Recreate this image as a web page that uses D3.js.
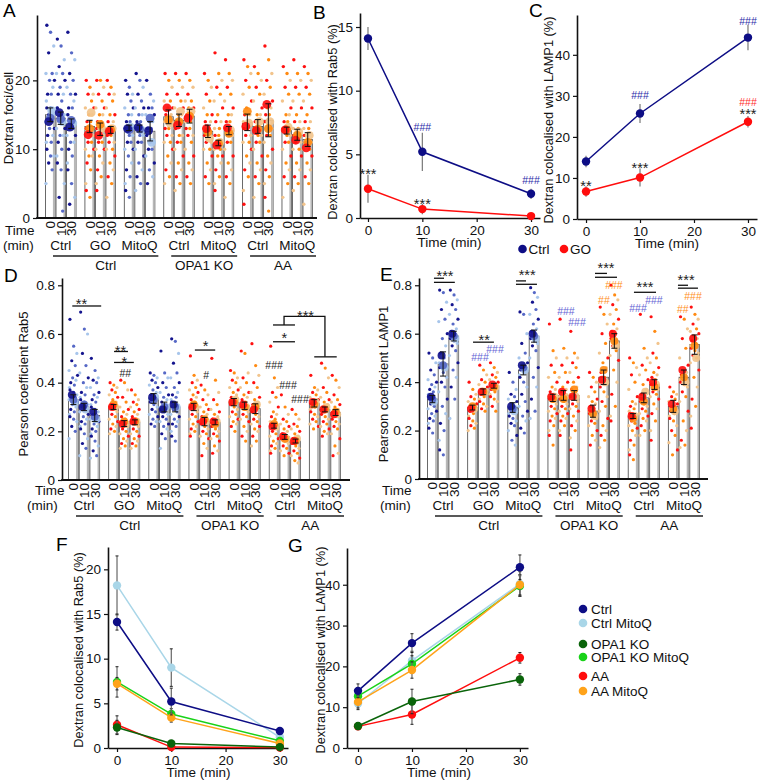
<!DOCTYPE html>
<html>
<head>
<meta charset="utf-8">
<script src="https://cdn.jsdelivr.net/npm/d3@7"></script>
<style>
  body { margin: 0; background: #fff; }
  svg text { font-family: "Liberation Sans", Arial, sans-serif; }
</style>
</head>
<body>
<svg id="fig" width="758" height="783"></svg>
<script>
(function() {
    'use strict';

    // ---- shared categories ----
    var subLabels = ["Ctrl", "GO", "MitoQ", "Ctrl", "MitoQ", "Ctrl", "MitoQ"];
    var mainGroups = [
        {label: "Ctrl", first: 0, last: 2},
        {label: "OPA1 KO", first: 3, last: 4},
        {label: "AA", first: 5, last: 6}
    ];
    var timeLabels = ["0", "10", "30"];
    var blueGroups = [0, 2];
    var times = [0, 10, 30];

    // ---- panel A: dextran foci per cell ----
    var aMeans = [[15.0,14.5,13.7],[13.3,12.9,12.8],[13.1,13.0,12.6],[14.7,14.2,14.8],[12.6,10.9,12.7],[13.9,13.3,14.2],[12.7,12.1,11.4]];
    var aErr = [[1.0,0.9,0.7],[0.9,0.9,0.5],[0.4,0.5,1.4],[1.0,0.9,1.0],[0.9,0.4,0.6],[1.2,1.0,2.4],[0.5,0.8,1.0]];
    var aReps = [
        [[14.0,14.5,15.6],[15.3,14.4,14.0],[13.2,14.2,13.8]],
        [[12.1,13.0,15.3],[12.0,13.6,13.0],[12.6,12.8,13.0]],
        [[13.0,12.8,13.2],[13.2,12.9,12.8],[12.7,14.5,11.0]],
        [[16.0,14.3,13.8],[13.5,14.0,15.5],[14.5,14.8,15.5]],
        [[13.0,12.5,11.6],[10.6,10.8,11.0],[13.1,12.3,12.8]],
        [[13.3,15.5,13.8],[12.7,12.9,14.0],[16.5,13.0,14.0]],
        [[12.8,12.8,13.2],[11.3,12.0,12.5],[10.2,11.0,12.0]]
    ];
    var aDots = [
        [[28,27,25,24,21,21,20,20,19,18,18,17,16,16,15,15,14,14,13,13,12,12,11,11,10,9,9,8,7,5],
         [26,25,23,22,21,21,20,19,18,18,17,16,16,15,15,14,14,13,13,12,12,11,10,9,8,7,5,3,1],
         [27,24,23,21,20,19,18,18,17,16,16,15,15,14,14,13,13,12,12,11,11,10,9,8,7,5,3,2]],
        [[20,19,18,18,17,16,16,15,15,14,14,13,13,12,12,11,11,10,10,9,9,8,7,5,4,3],
         [20,20,19,18,17,16,16,15,15,14,14,13,13,12,12,11,11,10,10,9,8,7,6,5,4],
         [20,19,18,18,17,16,15,15,14,14,13,13,12,12,11,11,10,10,9,8,7,6,5,3]],
        [[20,19,18,18,17,16,16,15,15,14,14,13,13,12,12,11,11,10,10,9,8,7,6,5,4,3],
         [21,20,19,18,17,16,16,15,15,14,14,13,13,12,12,11,11,10,9,8,7,6,5,4],
         [20,18,17,16,16,15,15,14,14,13,13,12,12,11,11,10,10,9,8,7,6,5]],
        [[21,20,19,18,17,17,16,16,15,15,14,14,13,13,12,12,11,11,10,9,8,7,6,5],
         [21,20,19,18,17,16,16,15,15,14,14,13,13,12,12,11,11,10,9,8,7,6,5,4],
         [21,20,19,18,17,17,16,16,15,15,14,14,13,13,12,12,11,10,9,8,7,6,5]],
        [[21,20,19,18,17,16,15,15,14,14,13,13,12,12,11,11,10,10,9,8,7,6,5],
         [24,21,20,19,18,17,16,15,14,14,13,13,12,12,11,11,10,10,9,9,8,7,6,5,4],
         [23,21,20,19,18,17,16,15,15,14,14,13,13,12,12,11,11,10,9,8,7,6,5,3]],
        [[23,22,21,20,19,18,17,16,15,15,14,14,13,13,12,12,11,11,10,9,8,7,6,4,2],
         [22,21,20,19,18,17,16,15,15,14,14,13,13,12,12,11,11,10,9,8,7,6,5,3],
         [25,23,21,20,19,18,17,16,16,15,15,14,14,13,13,12,12,11,10,9,8,7,6,5,3,1]],
        [[22,21,20,19,18,17,16,15,15,14,14,13,13,12,12,11,11,10,9,8,7,6,5,3],
         [23,21,20,19,18,17,16,15,14,14,13,13,12,12,11,11,10,10,9,8,7,6,5,4],
         [22,21,20,19,18,17,16,15,14,14,13,13,12,12,11,11,10,10,9,8,7,6,5,2]]
    ];

    // ---- panel B / C: Ctrl vs GO time course ----
    var bCtrl = [14.1, 5.2, 1.9], bCtrlErr = [0.9, 1.5, 0.4];
    var bGO = [2.3, 0.7, 0.15], bGOErr = [1.1, 0.4, 0.1];
    var cCtrl = [14.0, 25.7, 44.2], cCtrlErr = [1.4, 2.3, 3.1];
    var cGO = [6.7, 10.1, 23.7], cGOErr = [1.3, 2.2, 1.4];

    // ---- panel D: Pearson Rab5 ----
    var dMeans = [[0.33,0.30,0.265],[0.30,0.232,0.237],[0.335,0.30,0.30],[0.30,0.24,0.237],[0.32,0.305,0.293],[0.223,0.177,0.16],[0.315,0.29,0.277]];
    var dErr = [[0.02,0.015,0.025],[0.01,0.012,0.01],[0.02,0.02,0.02],[0.015,0.017,0.01],[0.015,0.015,0.02],[0.01,0.01,0.008],[0.015,0.01,0.012]];
    var dReps = [
        [[0.35,0.33,0.32],[0.30,0.31,0.29],[0.28,0.26,0.25]],
        [[0.30,0.31,0.30],[0.23,0.24,0.23],[0.24,0.24,0.24]],
        [[0.34,0.33,0.34],[0.29,0.30,0.30],[0.31,0.30,0.30]],
        [[0.30,0.31,0.30],[0.24,0.25,0.24],[0.24,0.23,0.24]],
        [[0.32,0.32,0.33],[0.31,0.30,0.30],[0.29,0.30,0.31]],
        [[0.22,0.23,0.22],[0.18,0.17,0.17],[0.16,0.16,0.17]],
        [[0.32,0.31,0.32],[0.29,0.29,0.30],[0.27,0.28,0.27]]
    ];
    var dDots = [
        [[0.66,0.55,0.52,0.49,0.47,0.45,0.43,0.42,0.41,0.40,0.39,0.38,0.37,0.36,0.35,0.34,0.34,0.33,0.32,0.31,0.30,0.29,0.28,0.27,0.26,0.25,0.24,0.22,0.20,0.17],
         [0.69,0.62,0.60,0.52,0.47,0.44,0.42,0.40,0.38,0.36,0.35,0.34,0.33,0.32,0.31,0.30,0.29,0.28,0.27,0.26,0.25,0.24,0.23,0.22,0.21,0.19,0.17,0.15,0.13,0.10],
         [0.50,0.45,0.42,0.41,0.40,0.38,0.36,0.35,0.34,0.33,0.32,0.31,0.30,0.29,0.28,0.27,0.26,0.25,0.24,0.23,0.22,0.21,0.20,0.19,0.18,0.16,0.14,0.12,0.10,0.09]],
        [[0.40,0.39,0.38,0.37,0.36,0.35,0.34,0.33,0.32,0.31,0.31,0.30,0.30,0.29,0.28,0.27,0.26,0.25,0.24,0.23,0.22,0.21,0.20,0.19],
         [0.41,0.40,0.37,0.34,0.32,0.30,0.29,0.28,0.27,0.26,0.25,0.24,0.24,0.23,0.22,0.21,0.20,0.19,0.18,0.17,0.16,0.15,0.14,0.13],
         [0.37,0.35,0.33,0.32,0.31,0.30,0.29,0.28,0.27,0.26,0.25,0.24,0.24,0.23,0.22,0.21,0.20,0.19,0.18,0.17,0.16,0.15,0.14,0.13]],
        [[0.44,0.43,0.42,0.41,0.40,0.39,0.38,0.37,0.36,0.35,0.34,0.33,0.32,0.31,0.30,0.29,0.28,0.27,0.26,0.25,0.24,0.23,0.22],
         [0.53,0.44,0.42,0.40,0.38,0.36,0.35,0.34,0.33,0.32,0.31,0.30,0.29,0.28,0.27,0.26,0.25,0.24,0.23,0.22,0.21,0.19,0.17,0.13],
         [0.58,0.57,0.52,0.48,0.44,0.42,0.40,0.38,0.36,0.35,0.34,0.33,0.32,0.31,0.30,0.29,0.28,0.27,0.26,0.25,0.24,0.23,0.22,0.20,0.18,0.16]],
        [[0.51,0.43,0.41,0.40,0.38,0.37,0.36,0.35,0.34,0.33,0.32,0.31,0.30,0.29,0.28,0.27,0.26,0.25,0.24,0.23,0.22,0.21,0.20,0.19,0.18],
         [0.39,0.37,0.35,0.33,0.31,0.30,0.29,0.28,0.27,0.26,0.25,0.24,0.23,0.22,0.21,0.20,0.19,0.18,0.17,0.15,0.13,0.10],
         [0.50,0.41,0.36,0.33,0.31,0.29,0.28,0.27,0.26,0.25,0.24,0.23,0.22,0.21,0.20,0.19,0.18,0.17,0.16,0.14,0.12,0.11]],
        [[0.45,0.44,0.42,0.41,0.40,0.38,0.37,0.36,0.35,0.34,0.33,0.32,0.31,0.30,0.29,0.28,0.27,0.26,0.25,0.24,0.23,0.22,0.20],
         [0.53,0.52,0.44,0.42,0.40,0.38,0.36,0.35,0.34,0.33,0.32,0.31,0.30,0.29,0.28,0.27,0.26,0.25,0.24,0.22,0.20,0.18,0.16],
         [0.56,0.47,0.43,0.40,0.38,0.36,0.34,0.33,0.32,0.31,0.30,0.29,0.28,0.27,0.26,0.25,0.24,0.23,0.22,0.21,0.20,0.18,0.16,0.14]],
        [[0.55,0.42,0.38,0.36,0.34,0.32,0.30,0.28,0.27,0.26,0.25,0.24,0.23,0.22,0.21,0.20,0.19,0.18,0.17,0.16,0.15,0.14,0.13,0.12,0.11],
         [0.35,0.30,0.27,0.25,0.24,0.23,0.22,0.21,0.20,0.19,0.18,0.17,0.17,0.16,0.15,0.14,0.13,0.12,0.11,0.10],
         [0.29,0.27,0.25,0.23,0.22,0.21,0.20,0.19,0.18,0.17,0.16,0.16,0.15,0.14,0.13,0.12,0.11,0.10,0.09,0.08,0.07]],
        [[0.43,0.38,0.37,0.36,0.35,0.34,0.33,0.32,0.31,0.30,0.30,0.29,0.28,0.27,0.26,0.25,0.24,0.23,0.22,0.21],
         [0.48,0.46,0.42,0.38,0.36,0.34,0.33,0.32,0.31,0.30,0.29,0.28,0.27,0.26,0.25,0.24,0.23,0.22,0.21,0.20,0.19,0.18],
         [0.43,0.41,0.38,0.35,0.33,0.32,0.31,0.30,0.29,0.28,0.27,0.26,0.25,0.24,0.23,0.22,0.21,0.19,0.17,0.14,0.11,0.10]]
    ];

    // ---- panel E: Pearson LAMP1 ----
    var eMeans = [[0.33,0.475,0.59],[0.295,0.36,0.385],[0.295,0.45,0.59],[0.335,0.345,0.345],[0.28,0.42,0.57],[0.26,0.335,0.39],[0.30,0.42,0.555]];
    var eErr = [[0.015,0.05,0.02],[0.01,0.012,0.01],[0.02,0.02,0.025],[0.015,0.02,0.02],[0.025,0.03,0.03],[0.01,0.02,0.02],[0.025,0.03,0.04]];
    var eReps = [
        [[0.34,0.33,0.32],[0.51,0.47,0.46],[0.60,0.59,0.58]],
        [[0.29,0.30,0.29],[0.36,0.36,0.36],[0.39,0.38,0.38]],
        [[0.30,0.29,0.28],[0.47,0.46,0.45],[0.60,0.59,0.58]],
        [[0.34,0.33,0.34],[0.36,0.33,0.34],[0.34,0.37,0.34]],
        [[0.29,0.27,0.26],[0.41,0.45,0.40],[0.60,0.57,0.55]],
        [[0.26,0.25,0.26],[0.34,0.32,0.36],[0.40,0.38,0.39]],
        [[0.31,0.29,0.28],[0.45,0.42,0.40],[0.58,0.55,0.50]]
    ];
    var eDots = [
        [[0.52,0.50,0.48,0.45,0.43,0.41,0.40,0.39,0.38,0.37,0.36,0.35,0.34,0.33,0.32,0.31,0.30,0.29,0.28,0.27,0.26,0.25,0.24,0.23,0.21,0.19],
         [0.78,0.77,0.73,0.70,0.66,0.65,0.60,0.58,0.55,0.52,0.50,0.48,0.46,0.44,0.42,0.40,0.38,0.36,0.33,0.30,0.27,0.23,0.20,0.16,0.12,0.10],
         [0.78,0.76,0.74,0.72,0.70,0.68,0.66,0.64,0.62,0.61,0.60,0.59,0.58,0.57,0.56,0.55,0.53,0.51,0.48,0.45,0.42,0.38,0.33,0.25]],
        [[0.40,0.37,0.35,0.34,0.33,0.32,0.31,0.30,0.29,0.28,0.27,0.26,0.25,0.24,0.23,0.22,0.21,0.20],
         [0.47,0.45,0.43,0.41,0.40,0.39,0.38,0.37,0.36,0.35,0.34,0.33,0.32,0.31,0.30,0.29,0.28],
         [0.48,0.46,0.44,0.43,0.42,0.41,0.40,0.39,0.38,0.37,0.36,0.35,0.34,0.33,0.32,0.30,0.28]],
        [[0.44,0.40,0.37,0.35,0.34,0.33,0.32,0.31,0.30,0.29,0.28,0.27,0.26,0.25,0.24,0.23,0.22,0.20,0.18,0.16,0.14],
         [0.69,0.68,0.60,0.56,0.52,0.50,0.48,0.47,0.46,0.45,0.44,0.43,0.42,0.40,0.38,0.35,0.32,0.30,0.28,0.26,0.24,0.21,0.19],
         [0.79,0.77,0.75,0.73,0.70,0.68,0.66,0.64,0.62,0.61,0.60,0.59,0.58,0.57,0.56,0.55,0.53,0.50,0.46,0.42,0.38,0.33,0.28,0.25]],
        [[0.64,0.53,0.50,0.47,0.44,0.42,0.40,0.38,0.37,0.36,0.35,0.34,0.33,0.32,0.31,0.30,0.29,0.28,0.27,0.26,0.25,0.24,0.22,0.20,0.18,0.14],
         [0.66,0.54,0.50,0.47,0.44,0.42,0.40,0.38,0.37,0.36,0.35,0.34,0.33,0.32,0.31,0.30,0.29,0.28,0.27,0.26,0.25,0.24,0.22,0.20,0.18],
         [0.61,0.52,0.50,0.48,0.46,0.44,0.42,0.40,0.38,0.37,0.36,0.35,0.34,0.33,0.32,0.31,0.30,0.29,0.28,0.26,0.24,0.22,0.20,0.17,0.12]],
        [[0.44,0.42,0.40,0.38,0.36,0.34,0.33,0.32,0.31,0.30,0.29,0.28,0.27,0.26,0.25,0.24,0.23,0.22,0.20,0.18,0.16,0.14],
         [0.71,0.68,0.64,0.60,0.56,0.52,0.50,0.48,0.46,0.44,0.42,0.40,0.38,0.36,0.34,0.32,0.30,0.28,0.25,0.22,0.20,0.18,0.16,0.13],
         [0.80,0.76,0.74,0.72,0.70,0.68,0.66,0.64,0.62,0.61,0.60,0.59,0.58,0.57,0.56,0.55,0.53,0.51,0.49,0.45,0.40,0.35,0.30,0.26,0.24]],
        [[0.50,0.48,0.46,0.43,0.40,0.37,0.34,0.32,0.31,0.30,0.29,0.28,0.27,0.26,0.25,0.24,0.23,0.22,0.21,0.20,0.18,0.16,0.14,0.12,0.10,0.08],
         [0.68,0.54,0.50,0.47,0.45,0.43,0.41,0.39,0.37,0.35,0.34,0.33,0.32,0.31,0.30,0.29,0.28,0.27,0.26,0.25,0.24,0.22,0.20,0.18],
         [0.67,0.61,0.56,0.52,0.50,0.48,0.46,0.44,0.43,0.42,0.41,0.40,0.39,0.38,0.37,0.36,0.35,0.34,0.33,0.31,0.29,0.27,0.24,0.20,0.16]],
        [[0.38,0.36,0.35,0.34,0.33,0.32,0.31,0.30,0.29,0.28,0.27,0.26,0.25,0.24,0.22,0.20,0.18,0.15,0.12,0.10],
         [0.67,0.66,0.62,0.58,0.54,0.50,0.47,0.45,0.44,0.43,0.42,0.41,0.40,0.39,0.38,0.36,0.34,0.32,0.28,0.24,0.20,0.16,0.14,0.13],
         [0.71,0.68,0.66,0.64,0.62,0.61,0.60,0.59,0.58,0.57,0.56,0.55,0.54,0.53,0.52,0.51,0.50,0.48,0.45,0.42,0.38,0.33,0.30,0.26,0.21]]
    ];

    // ---- panel F / G: all conditions ----
    var seriesNames = ["Ctrl", "Ctrl MitoQ", "OPA1 KO", "OPA1 KO MitoQ", "AA", "AA MitoQ"];
    var fValues = [[14.1,5.2,1.9],[18.2,9.0,1.2],[2.3,0.5,0.1],[7.4,3.8,0.8],[2.6,0.1,0.05],[7.2,3.4,0.5]];
    var fErrors = [[0.9,1.5,0.3],[3.3,2.1,0.6],[0.8,0.3,0.1],[1.7,0.6,0.3],[1.0,0.1,0.05],[0.7,0.5,0.3]];
    var gValues = [[14.0,25.7,44.3],[10.9,21.4,40.2],[5.4,11.4,16.8],[12.7,20.6,39.7],[5.3,8.2,22.1],[11.3,19.1,40.0]];
    var gErrors = [[1.7,2.3,3.0],[1.5,2.3,3.0],[0.8,3.0,1.4],[1.2,2.0,2.5],[0.8,2.4,1.3],[1.5,2.0,2.5]];

    // ---- styles ----
    var NAVY = "#0d0d85", RED = "#ff0d0d";
    var seriesColors = [NAVY, "#a9d6e8", "#0a640a", "#19d219", RED, "#ffa31a"];
    var drawOrder = [1, 3, 5, 4, 2, 0];
    var blues = ["#14148e", "#5668c6", "#a7c5eb"];
    var reds = ["#ff1010", "#ff8a12", "#f2c48c"];
    var jitter = [-3.4, 0.3, 3.5, -1.6, 1.9, -4.3, 4.2, -0.7, 2.6, -2.6, 1.0, -3.9];
    var HASH_BLUE = "#6464d4", HASH_ORANGE = "#ff8f1c", STAR = "#222", HASH_NAVY = "#2a2aa8";
    var TICK_FS = 13.5, LABEL_FS = 13.5;

    var svg = d3.select("#fig");

    function letter(t, x, y) {
        svg.append("text").attr("x", x).attr("y", y).attr("font-size", 19).attr("fill", "#000").text(t);
    }

    function styleAxis(sel) {
        sel.select(".domain").attr("stroke", "#111").attr("stroke-width", 1.6);
        sel.selectAll(".tick line").attr("stroke", "#111").attr("stroke-width", 1.2);
        sel.selectAll(".tick text").attr("font-size", TICK_FS).attr("fill", "#111")
            .style("font-family", "'Liberation Sans', Arial, sans-serif");
    }

    function note(g, x, y, t, color, size) {
        var isStar = t.charAt(0) === "*";
        g.append("text")
            .attr("x", x)
            .attr("y", y + (isStar ? size * 0.62 : size * 0.36))
            .attr("text-anchor", "middle")
            .attr("font-size", size)
            .attr("fill", color)
            .text(t);
    }

    // BAR + DOT PANELS (A, D, E)
    function barPanel(o) {
        var g = svg.append("g");
        var x = d3.scaleBand().domain(d3.range(subLabels.length)).range(o.xr).paddingInner(0.2).paddingOuter(0);
        var xb = d3.scaleBand().domain(d3.range(timeLabels.length)).range([0, x.bandwidth()]);
        var y = d3.scaleLinear().domain(o.yd).range(o.yr);
        var bw = xb.bandwidth();
        var cx = function(gi, b) { return x(gi) + bw * (b + 0.5); };

        var recs = [];
        o.means.forEach(function(row, gi) {
            row.forEach(function(m, b) {
                recs.push({gi: gi, b: b, m: m, e: o.errs[gi][b], dots: o.dots[gi][b], reps: o.reps[gi][b],
                           pal: blueGroups.indexOf(gi) >= 0 ? blues : reds});
            });
        });

        // bars
        g.selectAll("rect.bar").data(recs).join("rect")
            .attr("class", "bar")
            .attr("x", function(d) { return x(d.gi) + xb(d.b) + 0.5; })
            .attr("y", function(d) { return y(d.m); })
            .attr("width", bw - 1)
            .attr("height", function(d) { return y(0) - y(d.m); })
            .attr("fill", "#fff").attr("stroke", "#5a5a5a").attr("stroke-width", 0.9);
        g.selectAll("rect.shade").data(recs).join("rect")
            .attr("class", "shade")
            .attr("x", function(d) { return x(d.gi) + xb(d.b) + bw - 2.6; })
            .attr("y", function(d) { return y(d.m) + 0.5; })
            .attr("width", 1.8)
            .attr("height", function(d) { return y(0) - y(d.m) - 0.5; })
            .attr("fill", "#b8b8b8");

        // individual cells
        var dots = [];
        recs.forEach(function(d) {
            d.dots.forEach(function(v, i) {
                dots.push({x: cx(d.gi, d.b) + jitter[i % jitter.length], v: v, c: d.pal[i % 3]});
            });
        });
        g.selectAll("circle.dot").data(dots).join("circle")
            .attr("class", "dot")
            .attr("cx", function(d) { return d.x; })
            .attr("cy", function(d) { return y(d.v); })
            .attr("r", o.dotR)
            .attr("fill", function(d) { return d.c; });

        // replicate means
        var reps = [];
        recs.forEach(function(d) {
            [2, 1, 0].forEach(function(k) {
                reps.push({x: cx(d.gi, d.b) + (k - 1) * 1.5, v: d.reps[k], c: d.pal[k]});
            });
        });
        g.selectAll("circle.rep").data(reps).join("circle")
            .attr("class", "rep")
            .attr("cx", function(d) { return d.x; })
            .attr("cy", function(d) { return y(d.v); })
            .attr("r", o.repR)
            .attr("fill", function(d) { return d.c; })
            .attr("opacity", 0.92);

        // error bars
        recs.forEach(function(d) {
            var c = cx(d.gi, d.b);
            g.append("line").attr("x1", c).attr("x2", c)
                .attr("y1", y(d.m - d.e)).attr("y2", y(d.m + d.e))
                .attr("stroke", "#111").attr("stroke-width", 1);
            [d.m - d.e, d.m + d.e].forEach(function(v) {
                g.append("line").attr("x1", c - 3).attr("x2", c + 3)
                    .attr("y1", y(v)).attr("y2", y(v))
                    .attr("stroke", "#111").attr("stroke-width", 1);
            });
        });

        // axes
        var yAxis = g.append("g")
            .attr("transform", "translate(" + o.ax[0] + ",0)")
            .call(d3.axisLeft(y).tickValues(o.ticks).tickSize(4).tickSizeOuter(0).tickFormat(o.fmt));
        styleAxis(yAxis);
        g.append("line").attr("x1", o.ax[0] - 0.8).attr("x2", o.ax[1])
            .attr("y1", y(0)).attr("y2", y(0))
            .attr("stroke", "#111").attr("stroke-width", 1.8);

        subLabels.forEach(function(lab, gi) {
            var t = g.append("g")
                .attr("transform", "translate(" + x(gi) + "," + y(0) + ")")
                .call(d3.axisBottom(xb).tickSize(0).tickFormat(function(i) { return timeLabels[i]; }));
            t.select(".domain").remove();
            t.selectAll(".tick text")
                .attr("transform", "rotate(-90)")
                .attr("x", -3).attr("y", 0).attr("dy", "0.36em")
                .attr("font-size", TICK_FS).attr("fill", "#111")
                .style("text-anchor", "end")
                .style("font-family", "'Liberation Sans', Arial, sans-serif");
            g.append("text").attr("x", x(gi) + x.bandwidth() / 2).attr("y", o.subY)
                .attr("text-anchor", "middle").attr("font-size", LABEL_FS).attr("fill", "#111").text(lab);
        });
        mainGroups.forEach(function(mg) {
            var x1 = x(mg.first) + 8, x2 = x(mg.last) + x.bandwidth() + 3;
            g.append("line").attr("x1", x1).attr("x2", x2)
                .attr("y1", o.subY + 6).attr("y2", o.subY + 6)
                .attr("stroke", "#222").attr("stroke-width", 1.3);
            g.append("text").attr("x", (x1 + x2) / 2).attr("y", o.subY + 20)
                .attr("text-anchor", "middle").attr("font-size", LABEL_FS).attr("fill", "#111").text(mg.label);
        });
        g.append("text").attr("x", o.timeX[0]).attr("y", o.subY - 15)
            .attr("font-size", LABEL_FS).attr("fill", "#111").text("Time");
        g.append("text").attr("x", o.timeX[1]).attr("y", o.subY)
            .attr("font-size", LABEL_FS).attr("fill", "#111").text("(min)");

        g.append("text")
            .attr("transform", "translate(" + o.title[0] + "," + o.title[1] + ") rotate(-90)")
            .attr("text-anchor", "middle").attr("font-size", 13).attr("fill", "#111").text(o.titleText);

        // significance marks
        (o.lines || []).forEach(function(l) {
            g.append("line").attr("x1", cx(l.g, l.b0)).attr("x2", cx(l.g, l.b1))
                .attr("y1", y(l.v)).attr("y2", y(l.v))
                .attr("stroke", "#111").attr("stroke-width", 1.3);
        });
        (o.paths || []).forEach(function(p) {
            g.append("path")
                .attr("d", d3.line()(p.map(function(q) { return [cx(q[0], q[1]), y(q[2])]; })))
                .attr("fill", "none").attr("stroke", "#111").attr("stroke-width", 1.3);
        });
        (o.notes || []).forEach(function(n) {
            note(g, cx(n.g, n.b), y(n.v), n.t, n.c || STAR, n.t.charAt(0) === "*" ? 14.5 : 10.5);
        });
    }

    // LINE PANELS (B, C, F, G)
    function linePanel(o) {
        var g = svg.append("g");
        var x = d3.scaleLinear().domain(o.xd).range(o.xr);
        var y = d3.scaleLinear().domain(o.yd).range(o.yr);
        var xAxis = g.append("g").attr("transform", "translate(0," + o.yr[0] + ")")
            .call(d3.axisBottom(x).tickValues([0, 10, 20, 30]).tickSize(4).tickSizeOuter(0));
        styleAxis(xAxis);
        var yAxis = g.append("g").attr("transform", "translate(" + o.xr[0] + ",0)")
            .call(d3.axisLeft(y).tickValues(o.ticks).tickSize(4).tickSizeOuter(0));
        styleAxis(yAxis);
        g.append("text").attr("x", x(15)).attr("y", o.yr[0] + 29)
            .attr("text-anchor", "middle").attr("font-size", LABEL_FS).attr("fill", "#111").text("Time (min)");
        g.append("text")
            .attr("transform", "translate(" + o.title[0] + "," + o.title[1] + ") rotate(-90)")
            .attr("text-anchor", "middle").attr("font-size", 12.8).attr("fill", "#111").text(o.titleText);

        var line = d3.line().x(function(d) { return x(d.t); }).y(function(d) { return y(d.v); });
        o.series.forEach(function(s) {
            var pts = times.map(function(t, i) { return {t: t, v: s.values[i], e: s.errs[i]}; });
            g.append("path").datum(pts).attr("d", line)
                .attr("fill", "none").attr("stroke", s.color).attr("stroke-width", 1.5);
            pts.forEach(function(p) {
                g.append("line").attr("x1", x(p.t)).attr("x2", x(p.t))
                    .attr("y1", y(Math.max(0, p.v - p.e))).attr("y2", y(p.v + p.e))
                    .attr("stroke", o.errColor).attr("stroke-width", 1.2);
                if (o.caps) {
                    [Math.max(0, p.v - p.e), p.v + p.e].forEach(function(v) {
                        g.append("line").attr("x1", x(p.t) - 1.5).attr("x2", x(p.t) + 1.5)
                            .attr("y1", y(v)).attr("y2", y(v)).attr("stroke", "#222").attr("stroke-width", 1);
                    });
                }
            });
            g.selectAll(null).data(pts).join("circle")
                .attr("cx", function(d) { return x(d.t); })
                .attr("cy", function(d) { return y(d.v); })
                .attr("r", 4.2).attr("fill", s.color);
        });
        (o.notes || []).forEach(function(n) {
            note(g, x(n.t), y(n.v), n.s, n.c, n.s.charAt(0) === "*" ? 14.5 : 10.5);
        });
    }

    // ---------- A ----------
    letter("A", 3, 17);
    barPanel({
        xr: [45, 313], ax: [37, 317],
        yd: [0, 29.5], yr: [218, 15], ticks: [0, 10, 20], fmt: d3.format("d"),
        means: aMeans, errs: aErr, reps: aReps, dots: aDots, dotR: 1.7, repR: 4.4,
        subY: 250, timeX: [5, 3],
        title: [13, 118], titleText: "Dextran foci/cell"
    });

    // ---------- B ----------
    letter("B", 313, 19);
    linePanel({
        xd: [-1.47, 31.65], xr: [360, 540], yd: [0, 16.1], yr: [218, 13], ticks: [0, 5, 10, 15],
        title: [337, 122], titleText: "Dextran colocalised with Rab5 (%)", errColor: "#777", caps: false,
        series: [{values: bCtrl, errs: bCtrlErr, color: NAVY}, {values: bGO, errs: bGOErr, color: RED}],
        notes: [
            {t: 0, v: 3.8, s: "***", c: STAR},
            {t: 10, v: 7.1, s: "###", c: HASH_NAVY},
            {t: 10, v: 1.45, s: "***", c: STAR},
            {t: 30, v: 2.98, s: "###", c: HASH_NAVY}
        ]
    });
    // legend for B/C
    [{label: "Ctrl", color: NAVY, x: 522.5}, {label: "GO", color: RED, x: 564}].forEach(function(l) {
        svg.append("circle").attr("cx", l.x).attr("cy", 249).attr("r", 4.3).attr("fill", l.color);
        svg.append("text").attr("x", l.x + 6).attr("y", 253.5).attr("font-size", LABEL_FS)
            .attr("fill", "#111").text(l.label);
    });

    // ---------- C ----------
    letter("C", 529, 17);
    linePanel({
        xd: [-1.67, 31.67], xr: [577, 757], yd: [0, 49.7], yr: [219, 15], ticks: [0, 10, 20, 30, 40],
        title: [553, 120], titleText: "Dextran colocalised with LAMP1 (%)", errColor: "#777", caps: false,
        series: [{values: cCtrl, errs: cCtrlErr, color: NAVY}, {values: cGO, errs: cGOErr, color: RED}],
        notes: [
            {t: 30, v: 48.3, s: "###", c: HASH_NAVY},
            {t: 10, v: 30.1, s: "###", c: HASH_NAVY},
            {t: 30, v: 28.5, s: "###", c: "#ff2a2a"},
            {t: 30, v: 26.5, s: "***", c: STAR},
            {t: 10, v: 13.5, s: "***", c: STAR},
            {t: 0, v: 8.9, s: "**", c: STAR}
        ]
    });

    // ---------- D ----------
    letter("D", 4, 282);
    barPanel({
        xr: [68, 341], ax: [62, 350],
        yd: [0, 0.83], yr: [480, 278], ticks: [0, 0.2, 0.4, 0.6, 0.8],
        fmt: function(d) { return d === 0 ? "0" : d3.format(".1f")(d); },
        means: dMeans, errs: dErr, reps: dReps, dots: dDots, dotR: 1.6, repR: 4,
        subY: 510, timeX: [35, 27],
        title: [28, 384], titleText: "Pearson coefficient Rab5",
        lines: [
            {g: 0, b0: -0.1, b1: 2.6, v: 0.715},
            {g: 1, b0: 0.05, b1: 1.35, v: 0.528},
            {g: 1, b0: 0.05, b1: 1.9, v: 0.483},
            {g: 3, b0: 0.1, b1: 2.0, v: 0.534},
            {g: 5, b0: -0.1, b1: 1.95, v: 0.568},
            {g: 5, b0: -0.1, b1: 1.95, v: 0.637},
            {g: 6, b0: 0.0, b1: 2.1, v: 0.506}
        ],
        paths: [[[5, 0.93, 0.637], [5, 0.93, 0.672], [6, 1.0, 0.672], [6, 1.0, 0.506]]],
        notes: [
            {g: 0, b: 0.76, v: 0.74, t: "**"},
            {g: 1, b: 0.65, v: 0.548, t: "**"},
            {g: 1, b: 1.0, v: 0.50, t: "*"},
            {g: 1, b: 1.1, v: 0.437, t: "##"},
            {g: 3, b: 1.1, v: 0.565, t: "*"},
            {g: 3, b: 1.15, v: 0.431, t: "#"},
            {g: 5, b: 0.95, v: 0.60, t: "*"},
            {g: 5, b: 2.93, v: 0.692, t: "***"},
            {g: 5, b: 0.0, v: 0.472, t: "###"},
            {g: 5, b: 1.3, v: 0.39, t: "###"},
            {g: 5, b: 2.42, v: 0.333, t: "###"}
        ]
    });

    // ---------- E ----------
    letter("E", 380, 281);
    barPanel({
        xr: [427, 700], ax: [419, 708],
        yd: [0, 0.83], yr: [479, 278], ticks: [0, 0.2, 0.4, 0.6, 0.8],
        fmt: function(d) { return d === 0 ? "0" : d3.format(".1f")(d); },
        means: eMeans, errs: eErr, reps: eReps, dots: eDots, dotR: 1.6, repR: 4,
        subY: 510, timeX: [382, 380],
        title: [388, 384], titleText: "Pearson coefficient LAMP1",
        lines: [
            {g: 0, b0: 0.15, b1: 1.09, v: 0.829}, {g: 0, b0: 0.15, b1: 2.1, v: 0.812},
            {g: 1, b0: 0.05, b1: 2.0, v: 0.565},
            {g: 2, b0: 0.31, b1: 1.25, v: 0.818}, {g: 2, b0: 0.31, b1: 2.27, v: 0.804},
            {g: 4, b0: 0.19, b1: 1.31, v: 0.849}, {g: 4, b0: 0.19, b1: 2.25, v: 0.833},
            {g: 5, b0: 0.08, b1: 2.14, v: 0.771},
            {g: 6, b0: 0.44, b1: 1.38, v: 0.80}, {g: 6, b0: 0.44, b1: 2.31, v: 0.788}
        ],
        notes: [
            {g: 0, b: 1.18, v: 0.854, t: "***"},
            {g: 1, b: 1.09, v: 0.592, t: "**"},
            {g: 1, b: 0.7, v: 0.503, t: "###", c: HASH_BLUE},
            {g: 1, b: 2.1, v: 0.536, t: "###", c: HASH_BLUE},
            {g: 2, b: 1.35, v: 0.858, t: "***"},
            {g: 3, b: 1.23, v: 0.693, t: "###", c: HASH_BLUE},
            {g: 3, b: 2.26, v: 0.647, t: "###", c: HASH_BLUE},
            {g: 4, b: 1.22, v: 0.887, t: "***"},
            {g: 4, b: 1.96, v: 0.80, t: "###", c: HASH_ORANGE},
            {g: 4, b: 1.03, v: 0.738, t: "##", c: HASH_ORANGE},
            {g: 5, b: 1.11, v: 0.808, t: "***"},
            {g: 5, b: 0.46, v: 0.705, t: "###", c: HASH_BLUE},
            {g: 5, b: 1.95, v: 0.738, t: "###", c: HASH_BLUE},
            {g: 6, b: 1.2, v: 0.837, t: "***"},
            {g: 6, b: 1.85, v: 0.755, t: "###", c: HASH_ORANGE},
            {g: 6, b: 0.9, v: 0.701, t: "##", c: HASH_ORANGE}
        ]
    });

    // ---------- F ----------
    letter("F", 56, 551);
    linePanel({
        xd: [-1.66, 31.5], xr: [108, 288], yd: [0, 22.5], yr: [748, 547], ticks: [0, 5, 10, 15, 20],
        title: [83, 650], titleText: "Dextran colocalised with Rab5 (%)", errColor: "#666", caps: true,
        series: drawOrder.map(function(i) { return {values: fValues[i], errs: fErrors[i], color: seriesColors[i]}; })
    });

    // ---------- G ----------
    letter("G", 288, 552);
    linePanel({
        xd: [-2.04, 31.5], xr: [347, 528], yd: [0, 49], yr: [748, 548], ticks: [0, 10, 20, 30, 40],
        title: [325, 650], titleText: "Dextran colocalised with LAMP1 (%)", errColor: "#666", caps: true,
        series: drawOrder.map(function(i) { return {values: gValues[i], errs: gErrors[i], color: seriesColors[i]}; })
    });

    // legend for F/G
    var legendY = [609, 623, 644, 657, 676, 691];
    seriesNames.forEach(function(name, i) {
        svg.append("circle").attr("cx", 583).attr("cy", legendY[i]).attr("r", 4.3).attr("fill", seriesColors[i]);
        svg.append("text").attr("x", 591).attr("y", legendY[i] + 4.6).attr("font-size", LABEL_FS)
            .attr("fill", "#111").text(name);
    });
})();
</script>
</body>
</html>
